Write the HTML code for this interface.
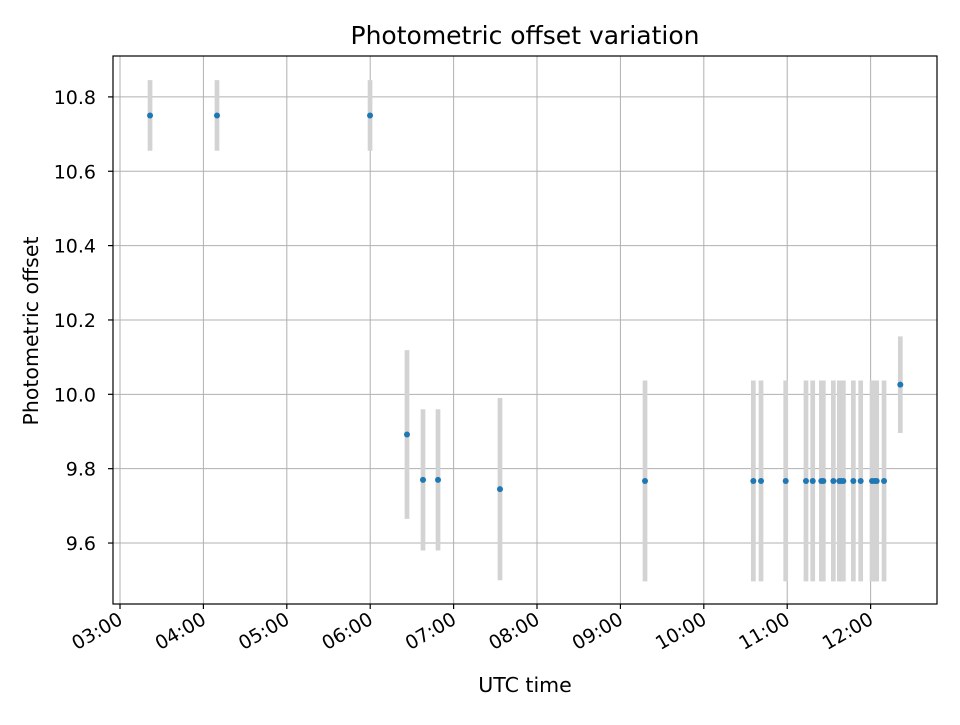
<!DOCTYPE html>
<html><head><meta charset="utf-8"><style>
html,body{margin:0;padding:0;background:#fff;}
svg text{font-family:"DejaVu Sans","Liberation Sans",sans-serif;}
</style></head><body>
<svg id="chart" width="960" height="720" xmlns="http://www.w3.org/2000/svg"></svg>
<script>
const times = [3.36,4.163,5.998,6.441,6.633,6.813,7.556,9.295,10.594,10.686,10.982,11.225,11.306,11.409,11.433,11.553,11.625,11.649,11.673,11.793,11.881,12.017,12.049,12.073,12.161,12.356];
const offsets = [10.75,10.75,10.75,9.892,9.77,9.77,9.745,9.767,9.767,9.767,9.767,9.767,9.767,9.767,9.767,9.767,9.767,9.767,9.767,9.767,9.767,9.767,9.767,9.767,9.767,10.026];
const errors = [0.095,0.095,0.095,0.227,0.19,0.19,0.245,0.27,0.27,0.27,0.27,0.27,0.27,0.27,0.27,0.27,0.27,0.27,0.27,0.27,0.27,0.27,0.27,0.27,0.27,0.13];
const xTicks = [3,4,5,6,7,8,9,10,11,12];
const xTickLabels = ["03:00","04:00","05:00","06:00","07:00","08:00","09:00","10:00","11:00","12:00"];
const yTicks = [9.6,9.8,10.0,10.2,10.4,10.6,10.8];
const yTickLabels = ["9.6","9.8","10.0","10.2","10.4","10.6","10.8"];

const L=113,R=937,T=56,B=604;
const x0=2.916,x1=12.796,y0=9.436,y1=10.910;
const xs=v=>L+(v-x0)/(x1-x0)*(R-L);
const ys=v=>B-(v-y0)/(y1-y0)*(B-T);
const svg=document.getElementById('chart');
const NS='http://www.w3.org/2000/svg';
function mk(tag,attrs,parent){const e=document.createElementNS(NS,tag);for(const k in attrs)e.setAttribute(k,attrs[k]);(parent||svg).appendChild(e);return e;}

const grid=mk('g',{});


xTicks.forEach(t=>{mk('line',{x1:xs(t),x2:xs(t),y1:T,y2:B,stroke:'#b0b0b0','stroke-width':1},grid);});
yTicks.forEach(t=>{mk('line',{x1:L,x2:R,y1:ys(t),y2:ys(t),stroke:'#b0b0b0','stroke-width':1},grid);});

const eb=mk('g',{});


times.forEach((t,i)=>{
  const l=mk('line',{x1:xs(t),x2:xs(t),y1:ys(offsets[i]+errors[i]),y2:ys(offsets[i]-errors[i]),stroke:'#d3d3d3','stroke-width':4.7},eb);
  
  
});
const pts=mk('g',{});


times.forEach((t,i)=>{
  const c=mk('circle',{cx:xs(t),cy:ys(offsets[i]),r:3,fill:'#1f77b4'},pts);
  
  
});

const frame=mk('rect',{x:L,y:T,width:R-L,height:B-T,fill:'none',stroke:'#000','stroke-width':1.2});



const xa=mk('g',{});


xTicks.forEach((t,i)=>{
  const x=xs(t);
  mk('line',{x1:x,x2:x,y1:B,y2:B+5,stroke:'#000','stroke-width':1.2},xa);
  const tx=mk('text',{x:x+4,y:B+19,'font-size':19,'text-anchor':'end',transform:`rotate(-30 ${x+4} ${B+19})`,fill:'#000'},xa);
  tx.textContent=xTickLabels[i];
  
  
});
const ya=mk('g',{});


yTicks.forEach((t,i)=>{
  const y=ys(t);
  mk('line',{x1:L-5,x2:L,y1:y,y2:y,stroke:'#000','stroke-width':1.2},ya);
  const tx=mk('text',{x:L-17,y:y+7,'font-size':19,'text-anchor':'end',fill:'#000'},ya);
  tx.textContent=yTickLabels[i];
  
  
});
const title=mk('text',{x:(L+R)/2,y:44,'font-size':25,'text-anchor':'middle',fill:'#000'});
title.textContent='Photometric offset variation';


const xt=mk('text',{x:(L+R)/2,y:692,'font-size':20.5,'text-anchor':'middle',fill:'#000'});
xt.textContent='UTC time';


const yt=mk('text',{x:38,y:(T+B)/2+1,'font-size':20.5,'text-anchor':'middle',transform:`rotate(-90 38 ${(T+B)/2+1})`,fill:'#000'});
yt.textContent='Photometric offset';


</script>
</body></html>
